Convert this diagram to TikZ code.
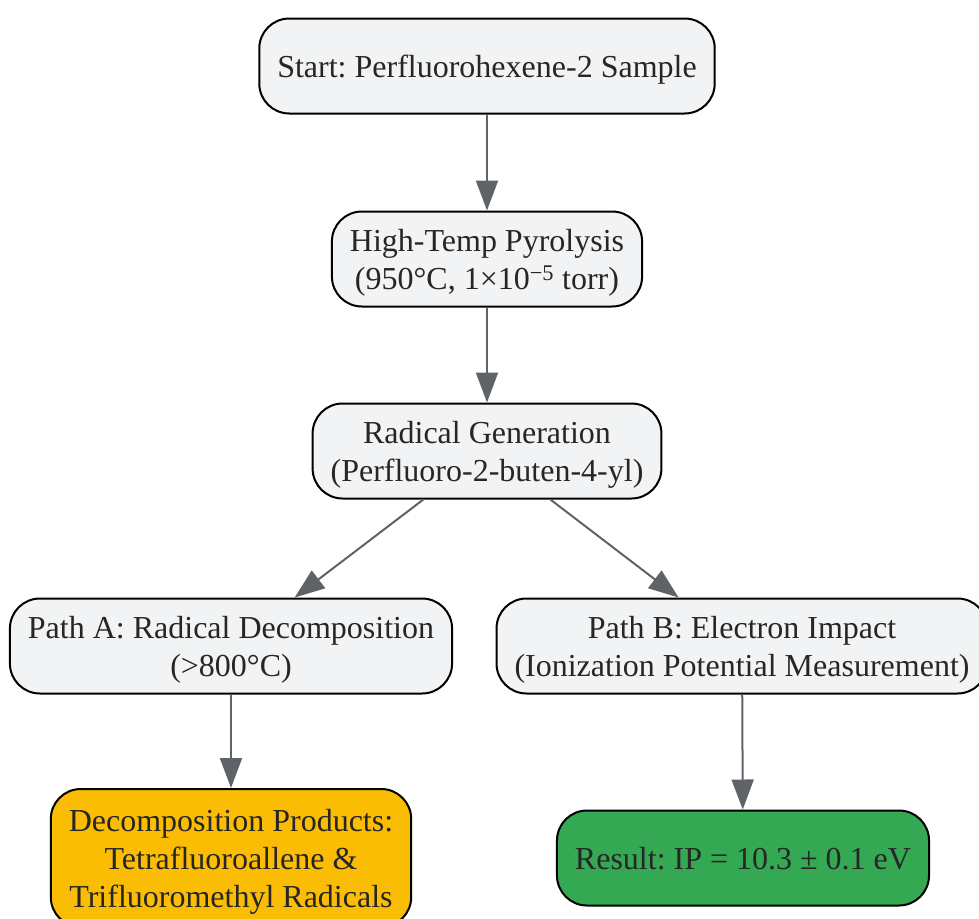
\documentclass[tikz,border=0pt]{standalone}
\usepackage{fontspec}
\setmainfont{Liberation Serif}
\usepackage{xcolor}
\usetikzlibrary{arrows.meta}
\definecolor{boxgray}{HTML}{F1F3F4}
\definecolor{linkgray}{HTML}{5F6368}
\definecolor{textdark}{HTML}{262626}
\definecolor{prodorange}{HTML}{FBBC04}
\definecolor{resultgreen}{HTML}{34A853}
\frenchspacing

\begin{document}
\begin{tikzpicture}[x=1pt,y=-1pt,
  box/.style={draw=black,line width=2pt,rounded corners=30pt,fill=boxgray,text=textdark,
    align=center,font=\fontsize{32}{38}\selectfont,inner xsep=18pt,inner ysep=10pt,
    text depth=0pt,minimum height=95pt},
  link/.style={draw=linkgray,line width=2pt,-{Triangle[length=30pt,width=22pt]}}]

\useasboundingbox (0,0) rectangle (979,918);

\node[box] (start) at (487,66) {Start: Perfluorohexene-2 Sample};
\node[box] (pyro) at (487,259) {High-Temp Pyrolysis\\(950°C, 1×10\textsuperscript{−5} torr)};
\node[box] (radical) at (487,451) {Radical Generation\\(Perfluoro-2-buten-4-yl)};

\node[box] (pathA) at (231,646) {Path A: Radical Decomposition\\(>800°C)};
\node[box] (pathB) at (742,646) {Path B: Electron Impact\\(Ionization Potential Measurement)};

\node[box,fill=prodorange,minimum height=138pt] (decomp) at (231,858) {Decomposition Products:\\Tetrafluoroallene \&\\Trifluoromethyl Radicals};
\node[box,fill=resultgreen] (result) at (743,858) {Result: IP = 10.3 ± 0.1 eV};

\draw[link] (start) -- (pyro);
\draw[link] (pyro) -- (radical);
\draw[link] (radical) -- (pathA);
\draw[link] (radical) -- (pathB);
\draw[link] (pathA) -- (decomp);
\draw[link] (pathB) -- (result);

\end{tikzpicture}
\end{document}
